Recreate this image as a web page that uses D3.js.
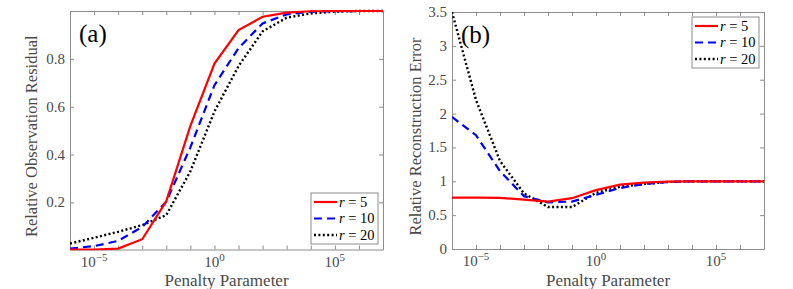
<!DOCTYPE html>
<html><head><meta charset="utf-8">
<script src="https://cdn.jsdelivr.net/npm/d3@7"></script>
<style>body{margin:0;background:#fff}svg{display:block}
svg text{font-family:"Liberation Serif","Times New Roman",Times,"DejaVu Serif","Noto Serif",serif;}
</style>
</head><body>
<svg id="c" width="793" height="289"></svg>
<script>
// penalty parameter exponents (10^k)
const exponents = [-6,-5,-4,-3,-2,-1,0,1,2,3,4,5,6,7];
const seriesNames = ["r = 5","r = 10","r = 20"];
// panel (a): relative observation residual
const residR5  = [0.003,0.003,0.007,0.046,0.205,0.52,0.78,0.92,0.976,0.993,0.999,1.0,1.0,1.0];
const residR10 = [0.007,0.017,0.039,0.097,0.203,0.43,0.69,0.845,0.948,0.986,0.997,0.999,1.0,1.0];
const residR20 = [0.028,0.052,0.077,0.105,0.147,0.33,0.58,0.77,0.915,0.972,0.99,0.997,1.0,1.0];
// panel (b): relative reconstruction error
const errR5  = [0.76,0.76,0.755,0.73,0.70,0.75,0.87,0.95,0.98,0.995,1.0,1.0,1.0,1.0];
const errR10 = [1.95,1.68,1.15,0.78,0.69,0.70,0.80,0.90,0.96,0.99,1.0,1.0,1.0,1.0];
const errR20 = [3.5,2.2,1.3,0.82,0.62,0.62,0.83,0.92,0.96,0.99,1.0,1.0,1.0,1.0];
const xLabelExps = [-5,0,5];
const yTicksA = [0.2,0.4,0.6,0.8];
const yTicksB = [0,0.5,1,1.5,2,2.5,3,3.5];

const svg = d3.select("#c");
const colors = ["#ff0000","#0000ff","#000000"];
const dashes = [null,"8,5","2,2.4"];
const frameColor = "#8c8c8c", textColor = "#4a4a4a";

function panel(opt){
  const x = d3.scaleLog().domain([1e-6,1e7]).range([opt.x0,opt.x1]);
  const y = d3.scaleLinear().domain(opt.yDomain).range([opt.y1,opt.y0]);
  const g = svg.append("g");
  const decades = exponents.map(k=>Math.pow(10,k));
  const ab = d3.axisBottom(x).tickValues(decades).tickFormat("").tickSizeInner(-4).tickSizeOuter(0);
  const at = d3.axisTop(x).tickValues(decades).tickFormat("").tickSizeInner(-4).tickSizeOuter(0);
  const al = d3.axisLeft(y).tickValues(opt.yTicks).tickFormat("").tickSizeInner(-4).tickSizeOuter(0);
  const ar = d3.axisRight(y).tickValues(opt.yTicks).tickFormat("").tickSizeInner(-4).tickSizeOuter(0);
  [[ab,`translate(0,${opt.y1})`],[at,`translate(0,${opt.y0})`],[al,`translate(${opt.x0},0)`],[ar,`translate(${opt.x1},0)`]].forEach(([a,t])=>{
    const ga = g.append("g").attr("transform",t).call(a);
    ga.attr("font-family",null);
    ga.selectAll("path").attr("stroke",frameColor).attr("stroke-width",1);
    ga.selectAll("line").attr("stroke",frameColor);
  });
  g.selectAll(".yl").data(opt.yTicks).enter().append("text")
    .attr("x",opt.x0-5).attr("y",d=>y(d)+5).attr("text-anchor","end")
    .attr("font-size",15).attr("fill",textColor)
    .text(d=>d3.format("")(d));
  xLabelExps.forEach(k=>{
    const t = g.append("text").attr("x",x(Math.pow(10,k))).attr("y",opt.y1+17)
      .attr("text-anchor","middle").attr("font-size",15).attr("fill",textColor);
    t.append("tspan").text("10");
    t.append("tspan").attr("dy",-6).attr("font-size",11).text(k<0?"\u2212"+(-k):String(k));
  });
  g.append("text").attr("x",(opt.x0+opt.x1)/2).attr("y",285.5).attr("text-anchor","middle")
    .attr("font-size",17).attr("fill",textColor).text("Penalty Parameter");
  g.append("text").attr("transform",`translate(${opt.ylx},${(opt.y0+opt.y1)/2+6}) rotate(-90)`)
    .attr("text-anchor","middle").attr("font-size",16.5).attr("fill",textColor).text(opt.ylabel);
  g.append("text").attr("x",opt.x0+9).attr("y",opt.y0+31)
    .attr("font-size",25).attr("fill","#000").text(opt.letter);
  const line = d3.line().x((d,i)=>x(Math.pow(10,exponents[i]))).y(d=>y(d));
  const clipId = "clip"+opt.letter.replace(/\W/g,"");
  svg.append("clipPath").attr("id",clipId).append("rect")
    .attr("x",opt.x0).attr("y",opt.y0-2).attr("width",opt.x1-opt.x0).attr("height",opt.y1-opt.y0+3);
  const lg = g.append("g").attr("clip-path",`url(#${clipId})`);
  [2,1,0].forEach(i=>{
    lg.append("path").datum(opt.series[i]).attr("d",line).attr("fill","none")
      .attr("stroke",colors[i]).attr("stroke-width",i==2?2.4:2.2)
      .attr("stroke-dasharray",dashes[i]);
  });
  const L = opt.legend;
  const lgd = g.append("g");
  lgd.append("rect").attr("x",L.x).attr("y",L.y).attr("width",L.w).attr("height",L.h)
    .attr("fill","#fff").attr("stroke",frameColor).attr("stroke-width",1);
  seriesNames.forEach((n,i)=>{
    const yy = L.y+9+i*16.5;
    lgd.append("line").attr("x1",L.x+3).attr("x2",L.x+26).attr("y1",yy).attr("y2",yy)
      .attr("stroke",colors[i]).attr("stroke-width",i==2?2.4:2.2).attr("stroke-dasharray",dashes[i]);
    const t = lgd.append("text").attr("x",L.x+28).attr("y",yy+4.5)
      .attr("font-size",14.5).attr("fill","#000");
    const parts = n.split(" = ");
    t.append("tspan").attr("font-style","italic").text(parts[0]);
    t.append("tspan").text(" = "+parts[1]);
  });
}

panel({x0:70,x1:383,y0:11,y1:249.5,yDomain:[0.003,1.0],yTicks:yTicksA,
  series:[residR5,residR10,residR20],ylabel:"Relative Observation Residual",ylx:37,letter:"(a)",
  legend:{x:311,y:193,w:67,h:51}});
panel({x0:452,x1:764,y0:12,y1:249,yDomain:[0,3.5],yTicks:yTicksB,
  series:[errR5,errR10,errR20],ylabel:"Relative Reconstruction Error",ylx:421,letter:"(b)",
  legend:{x:692,y:17,w:67,h:51}});
</script>
</body></html>
